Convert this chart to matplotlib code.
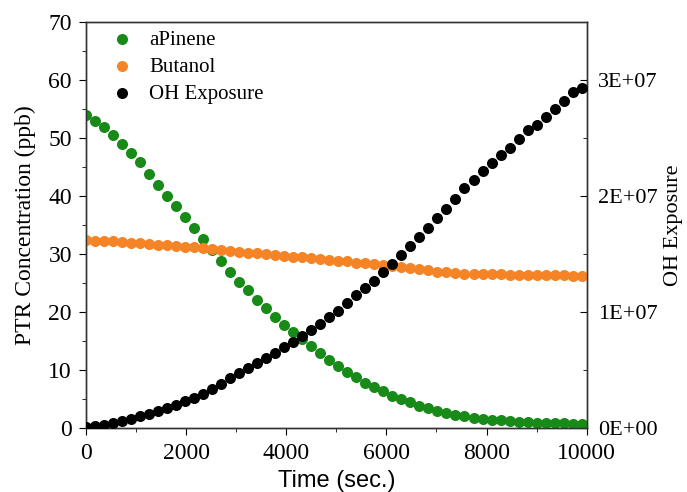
import matplotlib
matplotlib.use('Agg')
import matplotlib.pyplot as plt
from matplotlib.ticker import MultipleLocator, FuncFormatter

# time points (sec.)
time = [0, 180, 360, 540, 720, 900, 1080, 1260, 1440, 1620,
        1800, 1980, 2160, 2340, 2520, 2700, 2880, 3060, 3240, 3420,
        3600, 3780, 3960, 4140, 4320, 4500, 4680, 4860, 5040, 5220,
        5400, 5580, 5760, 5940, 6120, 6300, 6480, 6660, 6840, 7020,
        7200, 7380, 7560, 7740, 7920, 8100, 8280, 8460, 8640, 8820,
        9000, 9180, 9360, 9540, 9720, 9900]

# PTR concentration (ppb)
apinene = [53.9, 52.9, 51.9, 50.5, 48.9, 47.4, 45.8, 43.8, 41.9, 40.0,
           38.3, 36.4, 34.5, 32.5, 30.6, 28.7, 26.9, 25.2, 23.7, 22.1,
           20.6, 19.1, 17.8, 16.5, 15.3, 14.1, 13.0, 11.8, 10.7, 9.7,
           8.8, 7.8, 7.05, 6.3, 5.6, 5.0, 4.4, 3.85, 3.45, 3.0,
           2.6, 2.3, 2.0, 1.8, 1.6, 1.45, 1.3, 1.2, 1.1, 1.0,
           0.95, 0.9, 0.85, 0.8, 0.75, 0.72]

butanol = [32.4, 32.3, 32.3, 32.2, 32.1, 31.9, 31.8, 31.75, 31.55, 31.45,
           31.35, 31.2, 31.1, 31.0, 30.85, 30.7, 30.55, 30.4, 30.2, 30.1,
           30.0, 29.8, 29.65, 29.5, 29.4, 29.25, 29.1, 28.95, 28.85, 28.7,
           28.5, 28.4, 28.3, 28.1, 27.95, 27.75, 27.55, 27.35, 27.15, 26.95,
           26.8, 26.7, 26.6, 26.55, 26.5, 26.5, 26.45, 26.4, 26.4, 26.4,
           26.35, 26.3, 26.3, 26.3, 26.25, 26.2]

# OH exposure (units of 1E+06)
oh_exp = [0.1, 0.2, 0.3, 0.45, 0.6, 0.8, 1.0, 1.2, 1.45, 1.7,
          2.0, 2.3, 2.6, 2.95, 3.35, 3.8, 4.3, 4.75, 5.2, 5.6,
          6.0, 6.5, 7.0, 7.45, 7.95, 8.45, 8.95, 9.55, 10.1, 10.8,
          11.45, 12.05, 12.7, 13.4, 14.1, 14.9, 15.7, 16.45, 17.25, 18.1,
          18.9, 19.75, 20.7, 21.4, 22.15, 22.85, 23.55, 24.15, 24.9, 25.7,
          26.1, 26.8, 27.5, 28.2, 28.9, 29.3]
oh_exp = [v * 1e6 for v in oh_exp]

serif = 'Liberation Serif'
sans = 'Liberation Sans'

fig = plt.figure(figsize=(6.87, 4.92), dpi=100)
ax = fig.add_axes([0.125, 0.130, 0.729, 0.826])
ax2 = ax.twinx()

green = '#178a17'
orange = '#f58426'

h1 = ax.scatter(time, apinene, s=48, color=green, label='aPinene', zorder=3)
h2 = ax.scatter(time, butanol, s=48, color=orange, label='Butanol', zorder=3)
h3 = ax2.scatter(time, oh_exp, s=48, color='black', label='OH Exposure', zorder=3)

ax.set_xlim(0, 10000)
ax.set_ylim(0, 70)
ax2.set_ylim(0, 3.5e7)

ax.xaxis.set_major_locator(MultipleLocator(2000))
ax.xaxis.set_minor_locator(MultipleLocator(1000))
ax.yaxis.set_major_locator(MultipleLocator(10))
ax.yaxis.set_minor_locator(MultipleLocator(5))
ax2.yaxis.set_major_locator(MultipleLocator(1e7))
ax2.yaxis.set_minor_locator(MultipleLocator(5e6))
ax2.yaxis.set_major_formatter(FuncFormatter(lambda v, p: '%dE+07' % round(v / 1e7) if v > 0 else '0E+00'))

ax.tick_params(axis='both', which='both', direction='out', top=False, labelsize=17)
ax.tick_params(axis='y', pad=5)
ax.tick_params(axis='x', pad=6)
ax.tick_params(which='major', length=5)
ax.tick_params(which='minor', length=3)
ax2.tick_params(axis='y', which='both', direction='in', labelsize=16, pad=8)
ax2.tick_params(which='major', length=5)
ax2.tick_params(which='minor', length=3)

for lab in ax.get_xticklabels() + ax.get_yticklabels() + ax2.get_yticklabels():
    lab.set_fontfamily(serif)

ax.set_xlabel('Time (sec.)', fontsize=17, fontfamily=sans, labelpad=4)
ax.set_ylabel('PTR Concentration (ppb)', fontsize=17, fontfamily=serif, labelpad=9)
ax2.set_ylabel('OH Exposure', fontsize=16, fontfamily=serif, labelpad=5)

for a in (ax, ax2):
    for sp in a.spines.values():
        sp.set_color('#333333')
        sp.set_linewidth(1.0)

leg = ax2.legend(handles=[h1, h2, h3], loc='upper left', frameon=False,
                 prop={'family': serif, 'size': 15}, handletextpad=0.3,
                 labelspacing=0.36, borderaxespad=0.0, bbox_to_anchor=(0.014, 1.0))

fig.savefig('out.png', dpi=100)
